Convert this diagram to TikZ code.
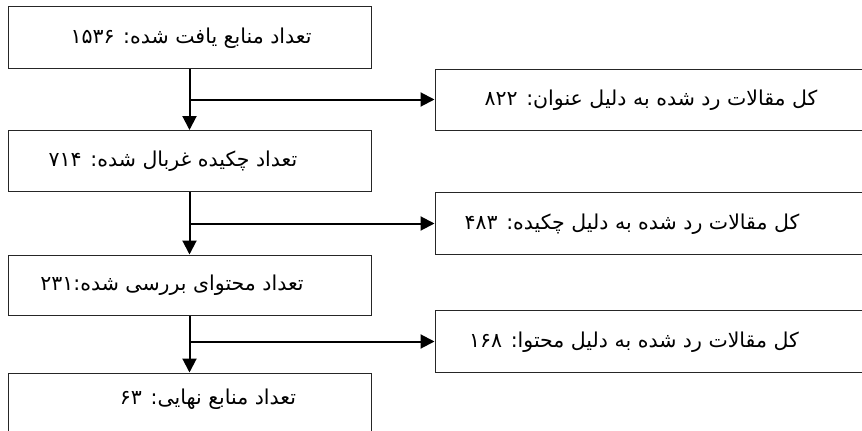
\documentclass[tikz,border=0pt]{standalone}
\usepackage{fontspec}
\newfontfamily\arabicfont[Script=Arabic]{DejaVu Sans}
\TeXXeTstate=1
\usetikzlibrary{arrows.meta}
\begin{document}
\begin{tikzpicture}[x=1pt,y=-1pt,
  box/.style={draw=black!85, line width=1pt, rectangle, inner sep=0pt, minimum height=62pt},
  lbox/.style={box, minimum width=363pt},
  rbox/.style={box, minimum width=432pt},
  lbl/.style={font=\arabicfont\fontsize{20.5}{24}\selectfont, inner sep=0pt},
  arr/.style={line width=2pt, -{Triangle[length=14pt,width=14pt]}}]
\useasboundingbox (0,0) rectangle (862,431);
\fill[white] (0,0) rectangle (862,431);
\begin{scope}
\clip (0,0) rectangle (862,431);
\node[lbox] (b1) at (189.5,37) {};
\node[lbox, minimum height=61pt] (b2) at (189.5,161) {};
\node[lbox, minimum height=60pt] (b3) at (189.5,285) {};
\node[lbox] (b4) at (189.5,404) {};
\node[rbox, minimum height=61pt] (r1) at (651,99.5) {};
\node[rbox] (r2) at (651,223.5) {};
\node[rbox] (r3) at (651,341.5) {};
\end{scope}
\node[lbl] (t1) at (191,38.5) {\beginR تعداد منابع یافت شده: ۱۵۳۶\endR};
\node[lbl] (t2) at (173,161.5) {\beginR تعداد چکیده غربال شده: ۷۱۴\endR};
\node[lbl] (t3) at (172,285.5) {\beginR تعداد محتوای بررسی شده:۲۳۱\endR};
\node[lbl] (t4) at (208,399.5) {\beginR تعداد منابع نهایی: ۶۳\endR};
\node[lbl] (u1) at (651,100.5) {\beginR کل مقالات رد شده به دلیل عنوان: ۸۲۲\endR};
\node[lbl] (u2) at (632,224) {\beginR کل مقالات رد شده به دلیل چکیده: ۴۸۳\endR};
\node[lbl] (u3) at (634,342) {\beginR کل مقالات رد شده به دلیل محتوا: ۱۶۸\endR};
\draw[arr] (b1.south) -- (b2.north);
\draw[arr] (b2.south) -- (b3.north);
\draw[arr] (b3.south) -- (b4.north);
\draw[arr] (b1.south |- r1.west) -- (r1.west);
\draw[arr] (b2.south |- r2.west) -- (r2.west);
\draw[arr] (b3.south |- r3.west) -- (r3.west);
\end{tikzpicture}
\end{document}
